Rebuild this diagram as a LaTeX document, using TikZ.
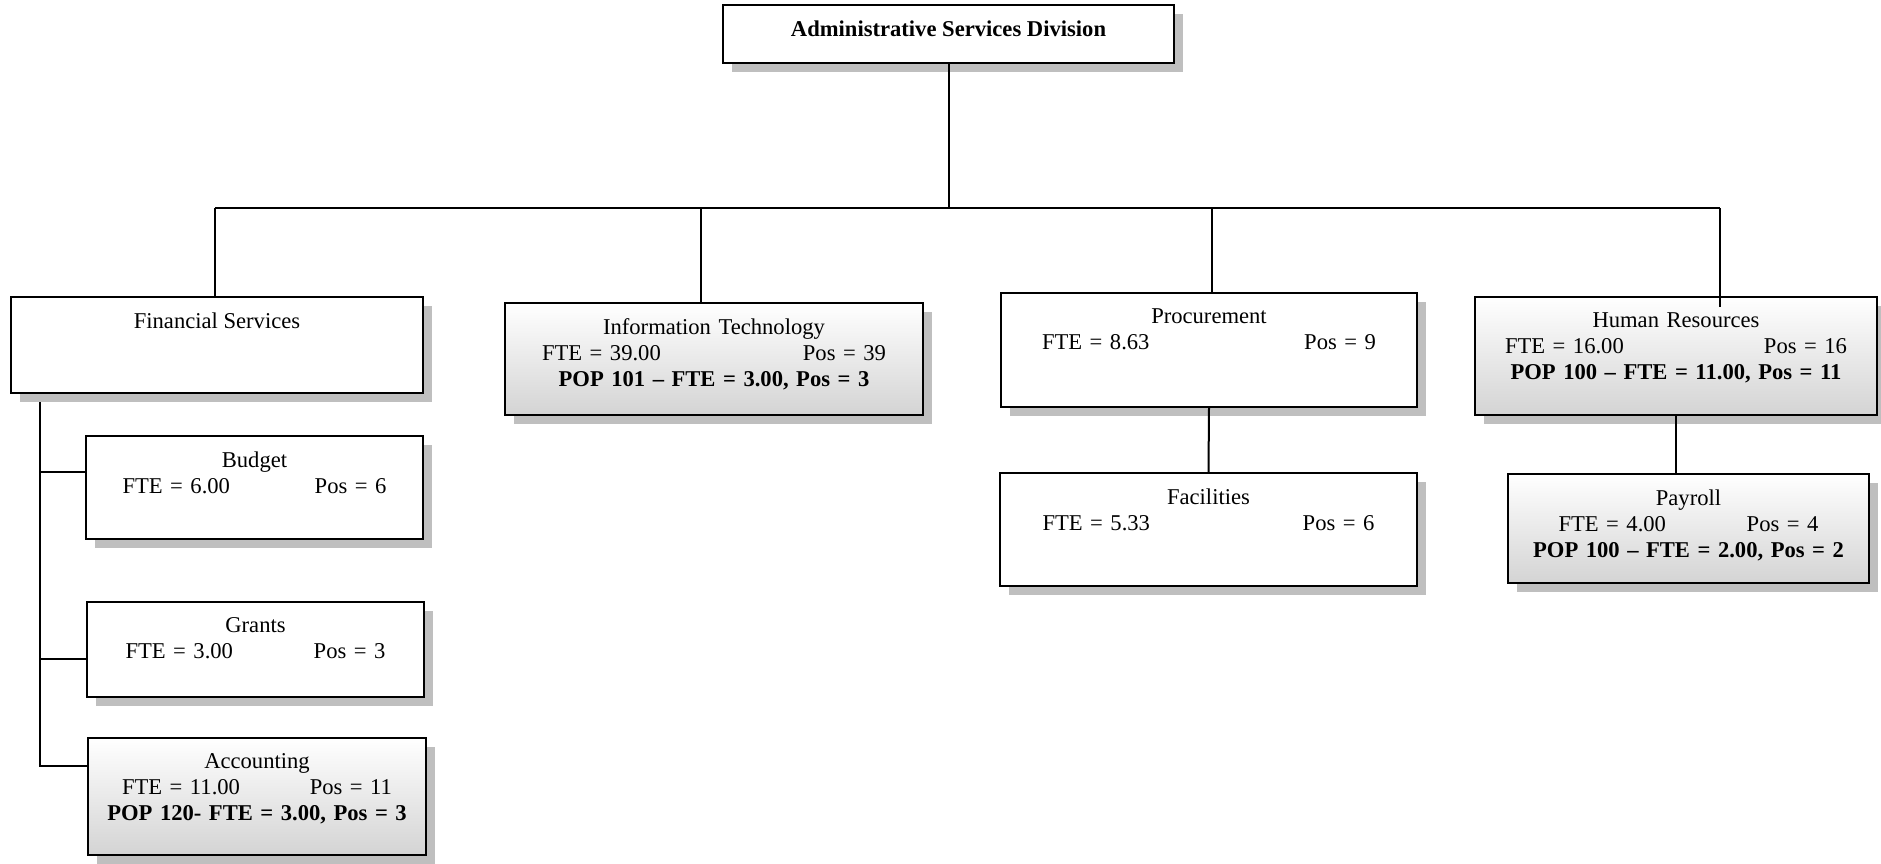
\documentclass[tikz,border=0pt]{standalone}
\usepackage{fontspec}
\setmainfont{Liberation Serif}
\usetikzlibrary{shadows,backgrounds}

\newcommand{\ftepos}[2]{FTE = #1\hfill Pos = #2}
\newcommand{\popline}[1]{\makebox[\linewidth][c]{\textbf{#1}}}

\begin{document}
\begin{tikzpicture}[x=0.5pt,y=-0.5pt,
    unit/.style={draw, line width=1.1pt, fill=white,
      drop shadow={shadow xshift=4.5pt, shadow yshift=-4.5pt, fill=black!25, opacity=1}},
    pop/.style={unit, top color=white, bottom color=black!17},
    boxsize/.style 2 args={minimum width=#1*0.5pt, minimum height=#2*0.5pt},
    unittext/.style={anchor=north, inner sep=0pt, yshift=-8.2pt, align=center,
      font=\fontsize{11.3}{13}\selectfont},
    link/.style={line width=1pt}]
  \useasboundingbox (0,0) rectangle (1881,863);

  % Division and units
  \node[unit, boxsize={451}{58}] (adm) at (948.5,34) {};
  \node[unit, boxsize={412}{96}] (fin) at (217,345) {};
  \node[pop, boxsize={418}{112}] (it) at (714,359) {};
  \node[unit, boxsize={416}{114}] (pro) at (1209,350) {};
  \node[pop, boxsize={402}{118}] (hr) at (1676,356) {};

  % Sub-units
  \node[unit, boxsize={337}{103}] (bud) at (254.5,487.5) {};
  \node[unit, boxsize={337}{95}] (gra) at (255.5,649.5) {};
  \node[pop, boxsize={338}{117}] (acc) at (257,796.5) {};
  \node[unit, boxsize={417}{113}] (fac) at (1208.5,529.5) {};
  \node[pop, boxsize={361}{109}] (pay) at (1688.5,528.5) {};

  % Texts
  \node[unittext] (adm-t) at (adm.north) {\textbf{Administrative Services Division}};
  \node[unittext] (fin-t) at (fin.north) {Financial Services};
  \node[unittext, text width=172pt] (it-t) at (it.north)
    {Information Technology\\ \ftepos{39.00}{39}\\ \popline{POP 101 – FTE = 3.00, Pos = 3}};
  \node[unittext, text width=167pt] (pro-t) at (pro.north) {Procurement\\ \ftepos{8.63}{9}};
  \node[unittext, text width=171pt] (hr-t) at (hr.north)
    {Human Resources\\ \ftepos{16.00}{16}\\ \popline{POP 100 – FTE = 11.00, Pos = 11}};
  \node[unittext, text width=132pt] (bud-t) at (bud.north) {Budget\\ \ftepos{6.00}{6}};
  \node[unittext, text width=130pt] (gra-t) at (gra.north) {Grants\\ \ftepos{3.00}{3}};
  \node[unittext, text width=135pt] (acc-t) at (acc.north)
    {Accounting\\ \ftepos{11.00}{11}\\ \popline{POP 120- FTE = 3.00, Pos = 3}};
  \node[unittext, text width=166pt] (fac-t) at (fac.north) {Facilities\\ \ftepos{5.33}{6}};
  \node[unittext, text width=130pt] (pay-t) at (pay.north)
    {Payroll\\ \ftepos{4.00}{4}\\ \popline{POP 100 – FTE = 2.00, Pos = 2}};

  % Top bar
  \coordinate (b1) at (215,208);
  \coordinate (b2) at (701,208);
  \coordinate (b3) at (1212,208);
  \coordinate (b4) at (1720,208);
  \draw[link] (adm.south) -- (adm.south |- b1);
  \draw[link] (b1) -- (b4);
  \draw[link] (b1) -- (b1 |- fin.north);
  \draw[link] (b2) -- (b2 |- it.north);
  \draw[link] (b3) -- (b3 |- pro.north);
  \draw[link] (b4) -- ([yshift=-5.5pt]b4 |- hr.north);
  \draw[link] (pro.south) -- (fac.north);
  \draw[link] (hr.south) -- (hr.south |- pay.north);

  % Financial Services spine, behind the shadow
  \begin{scope}[on background layer]
    \coordinate (fs) at (40,393);
    \coordinate (t1) at (40,472);
    \coordinate (t2) at (40,659);
    \coordinate (t3) at (40,766);
    \draw[link] (fs) -- (t3) -- (t3 -| acc.west);
    \draw[link] (t1) -- (t1 -| bud.west);
    \draw[link] (t2) -- (t2 -| gra.west);
  \end{scope}
\end{tikzpicture}
\end{document}
